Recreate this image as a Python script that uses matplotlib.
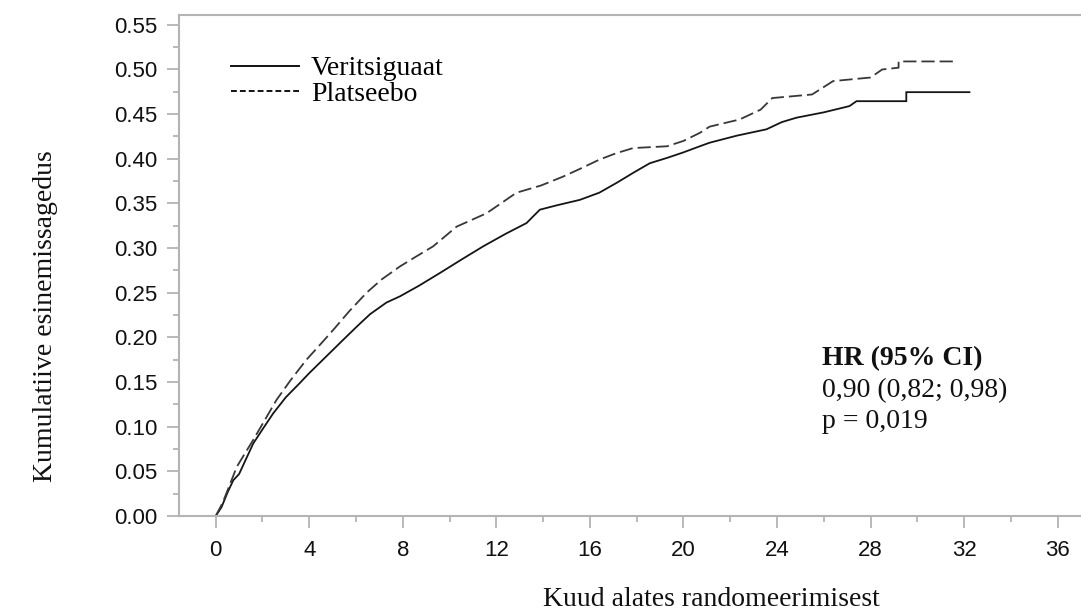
import matplotlib
matplotlib.use("Agg")
import matplotlib.pyplot as plt
from matplotlib.lines import Line2D
from matplotlib.ticker import MultipleLocator, FormatStrFormatter

# ---- data ----
veri_t = [0.0, 0.25, 0.5, 0.75, 1.0, 1.3, 1.6, 2.0, 2.46, 3.0, 3.6, 4.0, 4.74, 5.4,
          6.03, 6.6, 7.3, 7.88, 8.7, 9.58, 10.5, 11.44, 12.4, 13.29, 13.86, 14.6,
          15.57, 16.4, 17.14, 17.9, 18.56, 19.3, 19.98, 20.7, 21.12, 22.3, 23.55,
          24.2, 24.83, 26.0, 27.1, 27.4, 29.53, 29.53, 32.23]
veri_v = [0.000, 0.010, 0.026, 0.040, 0.047, 0.064, 0.081, 0.097, 0.115, 0.133, 0.149,
          0.160, 0.179, 0.196, 0.212, 0.226, 0.239, 0.246, 0.258, 0.272, 0.287, 0.302,
          0.316, 0.328, 0.343, 0.348, 0.354, 0.362, 0.373, 0.385, 0.395, 0.401, 0.407,
          0.414, 0.418, 0.426, 0.433, 0.441, 0.446, 0.452, 0.459, 0.4645, 0.4645,
          0.4746, 0.4746]

plac_t = [0.0, 0.3, 0.6, 0.9, 1.2, 1.6, 2.0, 2.6, 3.2, 3.88, 4.4, 5.03, 5.7, 6.45,
          7.1, 7.88, 8.6, 9.3, 10.3, 11.58, 12.86, 13.9, 14.85, 15.6, 16.4, 17.1,
          17.85, 19.3, 20.0, 20.7, 21.12, 22.4, 23.3, 23.8, 25.5, 26.4, 28.0, 28.5,
          29.2, 29.2, 31.6]
plac_v = [0.000, 0.015, 0.035, 0.055, 0.068, 0.085, 0.103, 0.130, 0.152, 0.175, 0.190,
          0.2085, 0.229, 0.250, 0.265, 0.2795, 0.291, 0.302, 0.324, 0.339, 0.362,
          0.370, 0.380, 0.389, 0.399, 0.406, 0.412, 0.414, 0.420, 0.429, 0.436, 0.444,
          0.455, 0.468, 0.472, 0.487, 0.491, 0.500, 0.502, 0.509, 0.509]

series_labels = ["Veritsiguaat", "Platseebo"]
x_label = "Kuud alates randomeerimisest"
y_label = "Kumulatiive esinemissagedus"
hr_title = "HR (95% CI)"
hr_lines = ["0,90 (0,82; 0,98)", "p = 0,019"]

# ---- figure ----
plt.rcParams['lines.scale_dashes'] = False
W, H = 1081, 616
fig = plt.figure(figsize=(W / 100, H / 100), dpi=100)
ax = fig.add_axes([179 / W, (H - 516) / H, (W - 179) / W, (516 - 15) / H])

serif = ['Liberation Serif', 'DejaVu Serif']
sans = ['Liberation Sans', 'DejaVu Sans']

ax.plot(veri_t, veri_v, color='#151515', lw=1.3, solid_joinstyle='miter')
ax.plot(plac_t, plac_v, color='#383838', lw=1.3, dashes=(9.5, 3.6))

ax.set_xlim(-1.57, 37.0)
ax.set_ylim(0, 0.561)

ax.xaxis.set_major_locator(MultipleLocator(4))
ax.xaxis.set_minor_locator(MultipleLocator(2))
ax.yaxis.set_major_locator(MultipleLocator(0.05))
ax.yaxis.set_minor_locator(MultipleLocator(0.025))
ax.yaxis.set_major_formatter(FormatStrFormatter('%.2f'))

gray = '#b4b4b4'
for side in ['left', 'top', 'bottom']:
    ax.spines[side].set_color(gray)
    ax.spines[side].set_linewidth(1.5)
ax.spines['right'].set_visible(False)

ax.tick_params(which='major', length=8.5, width=1.3, color=gray, direction='out',
               labelsize=16, labelcolor='#111111', pad=7)
ax.tick_params(axis='x', which='major', pad=8.5)
ax.tick_params(which='minor', length=4.5, width=1.3, color=gray, direction='out')
for lab in ax.get_xticklabels() + ax.get_yticklabels():
    lab.set_fontfamily(sans)

# legend
handles = [Line2D([], [], color='#111111', lw=1.4),
           Line2D([], [], color='#111111', lw=1.4, dashes=(4.2, 2.2))]
leg = ax.legend(handles, series_labels, loc='upper left',
                bbox_to_anchor=((231 - 179) / (W - 179), 1 - (56 - 15) / (516 - 15)),
                frameon=False, borderpad=0, borderaxespad=0, handlelength=2.45,
                handletextpad=0.43, labelspacing=0.0,
                prop={'family': serif, 'size': 20})

# HR annotation
fig.text(822 / W, (H - 365) / H, hr_title, family=serif, size=20, weight='bold',
         va='baseline', ha='left', color='#111111')
for i, line in enumerate(hr_lines):
    fig.text(822 / W, (H - 397 - i * 31.5) / H, line, family=serif, size=20,
             va='baseline', ha='left', color='#111111')

# axis labels
fig.text(711 / W, (H - 600) / H, x_label, family=serif, size=20, ha='center',
         va='center', color='#111111')
fig.text(46 / W, (H - 316) / H, y_label, family=serif, size=20, rotation=90,
         ha='center', va='center', color='#111111')

fig.savefig('out.png', dpi=100)
